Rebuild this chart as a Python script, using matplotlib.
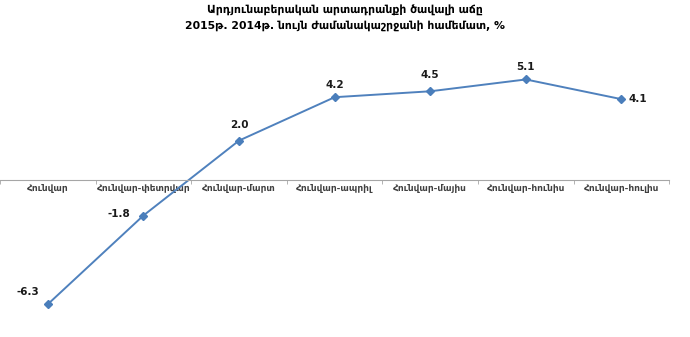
import numpy as np
import matplotlib.pyplot as plt

categories = ["Հունվար", "Հունվար-փետրվար", "Հունվար-մարտ", "Հունվար-ապրիլ",
              "Հունվար-մայիս", "Հունվար-հունիս", "Հունվար-հուլիս"]
values = [-6.3, -1.8, 2.0, 4.2, 4.5, 5.1, 4.1]
title = "Արդյունաբերական արտադրանքի ծավալի աճը\n2015թ. 2014թ. նույն ժամանակաշրջանի համեմատ, %"

# label offsets in points (dx, dy)
label_offsets = [(-14, 9), (-18, 1), (0, 11), (0, 9), (0, 12), (0, 9), (12, 0)]

plt.rcParams['font.family'] = ['DejaVu Sans']

fig = plt.figure(figsize=(6.9, 3.37), dpi=100)
ax = fig.add_axes([0.0, 0.027, 0.97, 0.825])

x = np.arange(len(categories))
ax.plot(x, values, color="#4f81bd", lw=1.4, marker="D", ms=4,
        markerfacecolor="#4a7ebb", markeredgecolor="#4a7ebb")

for xi, v, (dx, dy) in zip(x, values, label_offsets):
    ax.annotate(f"{v:.1f}", (xi, v), xytext=(dx, dy), textcoords="offset points",
                ha="center", va="center", fontsize=7.5, fontweight="bold", color="#1a1a1a")

ax.set_xlim(-0.5, len(categories) - 0.5)
ax.set_ylim(-7.5, 6.6)

for s in ["top", "right", "left"]:
    ax.spines[s].set_visible(False)
ax.spines["bottom"].set_position(("data", 0))
ax.spines["bottom"].set_color("#a6a6a6")
ax.set_yticks([])

ax.set_xticks(x)
ax.set_xticklabels(categories, fontsize=6.5, color="#404040", fontweight="bold")
ax.tick_params(axis="x", which="major", length=0, pad=3)
ax.set_xticks(np.arange(-0.5, len(categories)), minor=True)
ax.tick_params(axis="x", which="minor", length=3, color="#a6a6a6")

fig.text(0.5, 0.985, title, ha="center", va="top", fontsize=7.8, fontweight="bold",
         linespacing=1.5)

fig.savefig("out.png", dpi=100)
